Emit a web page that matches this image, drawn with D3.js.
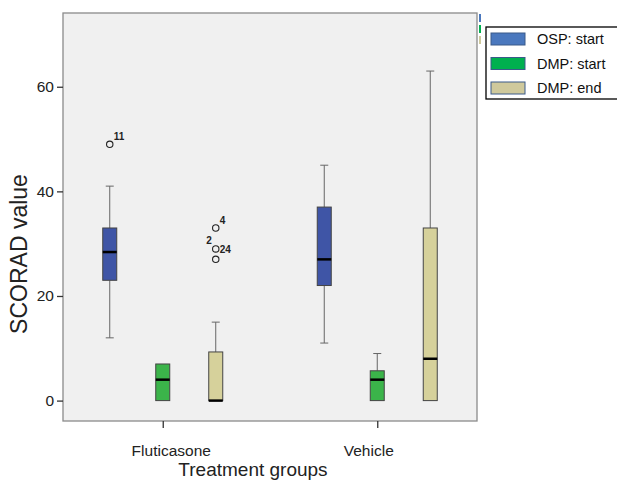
<!DOCTYPE html>
<html><head><meta charset="utf-8">
<script src="https://cdn.jsdelivr.net/npm/d3@7/dist/d3.min.js"></script>
<style>body{margin:0;background:#fff;}svg{display:block;font-family:"Liberation Sans",Arial,sans-serif;}</style>
</head><body>
<script>
const groups = ["Fluticasone", "Vehicle"];
const seriesNames = ["OSP: start", "DMP: start", "DMP: end"];
const seriesColors = ["#3F55A6", "#3BB44A", "#D6D19B"];
const legendColors = ["#4A78BE", "#00B04F", "#CFC99C"];
// [whiskerLow, q1, median, q3, whiskerHigh] per group, per series
const ospStart = [[12, 23, 28.4, 33, 41], [11, 22, 27, 37, 45]];
const dmpStart = [[0, 0, 4, 7, 7], [0, 0, 4, 5.7, 9]];
const dmpEnd = [[0, 0, 0, 9.3, 15], [0, 0, 8, 33, 63]];
const seriesData = [ospStart, dmpStart, dmpEnd];
// outliers: group index, series index, value, labels
const outliers = [
  {g: 0, s: 0, v: 49, labels: [["11", "right"]]},
  {g: 0, s: 2, v: 33, labels: [["4", "right"]]},
  {g: 0, s: 2, v: 29, labels: [["2", "left"], ["24", "right"]]},
  {g: 0, s: 2, v: 27, labels: []}
];
const yTicks = [0, 20, 40, 60];

const W = 617, H = 481;
const svg = d3.select("body").append("svg").attr("width", W).attr("height", H);
const L = 63, R = 477, T = 13, B = 421;

const y = d3.scaleLinear().domain([-3.9, 74.1]).range([B, T]);
const x = d3.scalePoint().domain(groups).range([L, R]).padding(0.465);
const off = d3.scalePoint().domain(seriesNames).range([-53, 53]);
const bw = 14;

svg.append("rect").attr("x", L).attr("y", T).attr("width", R - L).attr("height", B - T)
  .attr("fill", "#F0F0F0").attr("stroke", "#8a8a8a").attr("stroke-width", 1.3);

// Y axis
const yAxis = svg.append("g").attr("transform", `translate(${L},0)`)
  .call(d3.axisLeft(y).tickValues(yTicks).tickSize(6).tickPadding(3).tickFormat(d3.format("d")));
yAxis.select(".domain").remove();
yAxis.selectAll("line").attr("stroke", "#333").attr("stroke-width", 1.3);
yAxis.selectAll("text").attr("font-size", 15.5).attr("fill", "#222");

// X axis
const labelShift = {"Fluticasone": 8, "Vehicle": -9};
const xAxis = svg.append("g").attr("transform", `translate(0,${B})`)
  .call(d3.axisBottom(x).tickSize(7).tickPadding(17));
xAxis.select(".domain").remove();
xAxis.selectAll("line").attr("stroke", "#333").attr("stroke-width", 1.3);
xAxis.selectAll("text").attr("font-size", 15.5).attr("fill", "#222")
  .attr("dx", d => labelShift[d]);

svg.append("text").attr("x", 253).attr("y", 476).attr("text-anchor", "middle")
  .attr("font-size", 19).attr("fill", "#222").text("Treatment groups");
svg.append("text").attr("transform", `translate(27,254) rotate(-90)`).attr("text-anchor", "middle")
  .attr("font-size", 23).attr("fill", "#222").text("SCORAD value");

// Boxes
seriesData.forEach((sd, si) => {
  sd.forEach((d, gi) => {
    const cx = x(groups[gi]) + off(seriesNames[si]);
    const g = svg.append("g");
    const [lo, q1, med, q3, hi] = d;
    if (hi > q3) {
      g.append("line").attr("x1", cx).attr("x2", cx).attr("y1", y(q3)).attr("y2", y(hi)).attr("stroke", "#666").attr("stroke-width", 1);
      g.append("line").attr("x1", cx - 4).attr("x2", cx + 4).attr("y1", y(hi)).attr("y2", y(hi)).attr("stroke", "#666").attr("stroke-width", 1);
    }
    if (lo < q1) {
      g.append("line").attr("x1", cx).attr("x2", cx).attr("y1", y(q1)).attr("y2", y(lo)).attr("stroke", "#666").attr("stroke-width", 1);
      g.append("line").attr("x1", cx - 4).attr("x2", cx + 4).attr("y1", y(lo)).attr("y2", y(lo)).attr("stroke", "#666").attr("stroke-width", 1);
    }
    g.append("rect").attr("x", cx - bw / 2).attr("y", y(q3)).attr("width", bw).attr("height", y(q1) - y(q3))
      .attr("fill", seriesColors[si]).attr("stroke", "#444").attr("stroke-width", 1);
    g.append("line").attr("x1", cx - bw / 2).attr("x2", cx + bw / 2).attr("y1", y(med)).attr("y2", y(med))
      .attr("stroke", "#000").attr("stroke-width", 2.5);
  });
});

// Outliers
outliers.forEach(o => {
  const cx = x(groups[o.g]) + off(seriesNames[o.s]);
  const cy = y(o.v);
  svg.append("circle").attr("cx", cx).attr("cy", cy).attr("r", 3.2).attr("fill", "none").attr("stroke", "#222").attr("stroke-width", 1.1);
  o.labels.forEach(([t, side]) => {
    if (side === "right") {
      const isInline = o.labels.length > 1;
      svg.append("text").attr("x", cx + 4).attr("y", isInline ? cy + 4 : cy - 4)
        .attr("font-size", 10).attr("font-weight", "bold").attr("fill", "#222").text(t);
    } else {
      svg.append("text").attr("x", cx - 4).attr("y", cy - 5).attr("text-anchor", "end")
        .attr("font-size", 10).attr("font-weight", "bold").attr("fill", "#222").text(t);
    }
  });
});

// small clipped legend fragments at right edge
seriesNames.forEach((s, i) => {
  svg.append("rect").attr("x", 479).attr("y", 14 + i * 11).attr("width", 2).attr("height", 8).attr("fill", legendColors[i]);
});

// Legend
const lg = svg.append("g");
lg.append("rect").attr("x", 486).attr("y", 27).attr("width", 140).attr("height", 72)
  .attr("fill", "#fff").attr("stroke", "#000").attr("stroke-width", 1.3);
seriesNames.forEach((s, i) => {
  const yy = 33 + i * 24.5;
  lg.append("rect").attr("x", 491).attr("y", yy).attr("width", 34).attr("height", 12)
    .attr("fill", legendColors[i]).attr("stroke", "#3a5a8a").attr("stroke-width", 1);
  lg.append("text").attr("x", 537).attr("y", yy + 11).attr("font-size", 14.5).attr("fill", "#111").text(s);
});
</script>
</body></html>
